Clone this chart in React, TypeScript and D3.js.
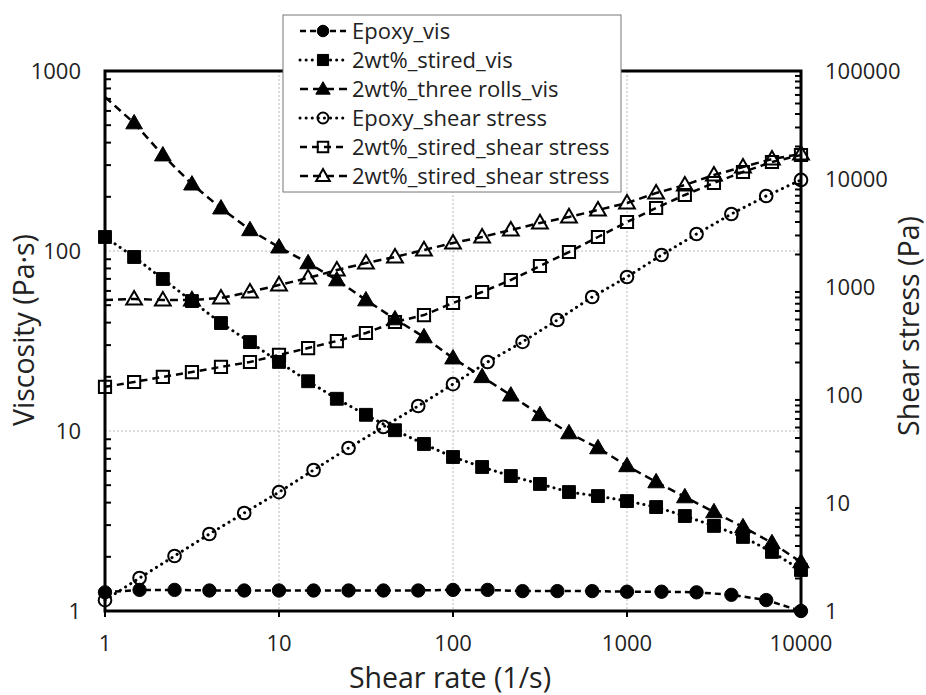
import React from 'react';
import * as d3 from 'd3';

// shear rates (1/s): 5 points per decade for epoxy, 6 per decade for 2wt% samples
const rateEpoxy = [1, 1.58, 2.51, 3.98, 6.31, 10, 15.8, 25.1, 39.8, 63.1, 100, 158, 251, 398, 631, 1000, 1580, 2510, 3980, 6310, 10000];
const rateFilled = [1, 1.47, 2.15, 3.16, 4.64, 6.81, 10, 14.7, 21.5, 31.6, 46.4, 68.1, 100, 147, 215, 316, 464, 681, 1000, 1470, 2150, 3160, 4640, 6810, 10000];

// viscosity (Pa·s), left axis
const epoxyVis = [1.27, 1.31, 1.31, 1.3, 1.3, 1.3, 1.3, 1.3, 1.3, 1.3, 1.31, 1.31, 1.29, 1.29, 1.29, 1.28, 1.28, 1.27, 1.23, 1.15, 1.0];
const stiredVis = [119.6, 92.6, 69.9, 52.7, 39.8, 31.2, 24.2, 18.9, 15.1, 12.3, 10.1, 8.47, 7.17, 6.31, 5.62, 5.08, 4.58, 4.35, 4.08, 3.78, 3.37, 2.97, 2.58, 2.13, 1.69];
const threeRollsVis = [717, 514, 341, 235, 173, 131, 105, 85.8, 69, 53.4, 41.9, 33.3, 25.4, 20, 15.8, 12.3, 9.75, 8.05, 6.4, 5.21, 4.3, 3.55, 2.93, 2.39, 1.87];

// shear stress (Pa), right axis
const epoxyStress = [1.26, 2.02, 3.23, 5.16, 8.08, 12.6, 20.2, 32.3, 50.6, 79.1, 126, 202, 310, 495, 808, 1238, 1977, 3093, 4743, 6965, 9800];
const stiredStress = [119, 132, 147, 163, 182, 202, 235, 272, 316, 375, 474, 550, 711, 899, 1161, 1564, 2108, 2904, 4000, 5387, 7112, 9184, 11610, 14360, 16680];
const threeRollsStress = [758, 774, 758, 758, 791, 899, 1044, 1212, 1436, 1667, 1896, 2202, 2555, 2904, 3371, 3917, 4450, 5163, 5995, 7418, 8790, 10890, 12910, 15310, 17030];

const xTicks = [1, 10, 100, 1000, 10000];
const yLeftTicks = [1, 10, 100, 1000];
const yRightTicks = [1, 10, 100, 1000, 10000, 100000];

const series = [
  { name: 'Epoxy_vis', x: rateEpoxy, y: epoxyVis, axis: 'L', shape: 'circle', filled: true, dash: '6,4', markerFrom: 0 },
  { name: '2wt%_stired_vis', x: rateFilled, y: stiredVis, axis: 'L', shape: 'square', filled: true, dash: 'dot', markerFrom: 0 },
  { name: '2wt%_three rolls_vis', x: rateFilled, y: threeRollsVis, axis: 'L', shape: 'triangle', filled: true, dash: '8,5', markerFrom: 1 },
  { name: 'Epoxy_shear stress', x: rateEpoxy, y: epoxyStress, axis: 'R', shape: 'circle', filled: false, dash: 'dot', markerFrom: 0 },
  { name: '2wt%_stired_shear stress', x: rateFilled, y: stiredStress, axis: 'R', shape: 'square', filled: false, dash: '7,5', markerFrom: 0 },
  { name: '2wt%_stired_shear stress', x: rateFilled, y: threeRollsStress, axis: 'R', shape: 'triangle', filled: false, dash: '8,5', markerFrom: 1 },
];

const W = 926;
const H = 695;
const left = 105, right = 801, top = 71, bottom = 611;
const font = '"Open Sans", "DejaVu Sans", sans-serif';

const symbolType = (s) => s === 'circle' ? d3.symbolCircle : s === 'square' ? d3.symbolSquare : d3.symbolTriangle;
const symbolSize = (s, k) => (s === 'circle' ? 140 : s === 'square' ? 165 : 120) * k;

const Marker = ({ s, x, y, k = 1 }) => {
  const path = d3.symbol().type(symbolType(s.shape)).size(symbolSize(s.shape, s.filled ? k : k * 0.9))();
  const dy = s.shape === 'triangle' ? 1 : 0;
  return (
    <path
      d={path}
      transform={`translate(${x},${y + dy})`}
      fill={s.filled ? '#000' : 'none'}
      stroke="#000"
      strokeWidth={s.filled ? 1 : 2}
    />
  );
};

const lineDash = (dash) => dash === 'dot'
  ? { strokeDasharray: '0.1,6', strokeLinecap: 'round' as const, strokeWidth: 3 }
  : { strokeDasharray: dash, strokeWidth: 2.5 };

export default function App() {
  const x = d3.scaleLog().domain([1, 10000]).range([left, right]);
  const yL = d3.scaleLog().domain([1, 1000]).range([bottom, top]);
  const yR = d3.scaleLog().domain([1, 100000]).range([bottom, top]);

  const minorL = yL.ticks().filter(v => !yLeftTicks.includes(v));
  const minorR = yR.ticks().filter(v => !yRightTicks.includes(v));

  const legendX = 283, legendY = 15, legendW = 338, legendH = 177, rowH = 29;

  return (
    <svg width={W} height={H} style={{ position: 'absolute', left: 0, top: 0, background: '#fff' }} fontFamily={font}>
      <rect width={W} height={H} fill="#fff" />

      {/* grid */}
      {[10, 100].map(v => (
        <line key={'gy' + v} x1={left} x2={right} y1={yL(v)} y2={yL(v)} stroke="#aaa" strokeWidth={0.8} strokeDasharray="2,2" />
      ))}
      {[10, 100, 1000].map(v => (
        <line key={'gx' + v} x1={x(v)} x2={x(v)} y1={top} y2={bottom} stroke="#aaa" strokeWidth={0.8} strokeDasharray="2,2" />
      ))}

      {/* series */}
      {series.map((s, i) => {
        const yS = s.axis === 'L' ? yL : yR;
        const pts = s.x.map((xv, j) => [x(xv), yS(s.y[j])] as [number, number]);
        const d = d3.line()(pts);
        return (
          <g key={'s' + i}>
            <path d={d} fill="none" stroke="#000" {...lineDash(s.dash)} />
            {pts.slice(s.markerFrom).map((p, j) => <Marker key={j} s={s} x={p[0]} y={p[1]} />)}
          </g>
        );
      })}

      {/* frame */}
      <rect x={left} y={top} width={right - left} height={bottom - top} fill="none" stroke="#000" strokeWidth={3} />

      {/* ticks */}
      {minorL.map(v => <line key={'ml' + v} x1={left} x2={left + 6} y1={yL(v)} y2={yL(v)} stroke="#000" strokeWidth={2} />)}
      {minorR.map(v => <line key={'mr' + v} x1={right - 6} x2={right} y1={yR(v)} y2={yR(v)} stroke="#000" strokeWidth={2} />)}
      {xTicks.map(v => <line key={'xt' + v} x1={x(v)} x2={x(v)} y1={bottom} y2={bottom + 6} stroke="#000" strokeWidth={2} />)}

      {/* tick labels */}
      {yLeftTicks.map(v => (
        <text key={'yl' + v} x={left - 24} y={yL(v)} dy="0.35em" textAnchor="end" fontSize={22} fill="#222">{v}</text>
      ))}
      {yRightTicks.map(v => (
        <text key={'yr' + v} x={right + 24} y={yR(v)} dy="0.35em" textAnchor="start" fontSize={22} fill="#222">{v}</text>
      ))}
      {xTicks.map(v => (
        <text key={'xl' + v} x={x(v)} y={651} textAnchor="middle" fontSize={22} fill="#222">{v}</text>
      ))}

      {/* axis titles */}
      <text x={450} y={688} textAnchor="middle" fontSize={28.5} fill="#222">Shear rate (1/s)</text>
      <text transform={`translate(34,330) rotate(-90)`} textAnchor="middle" fontSize={28.5} fill="#222">Viscosity (Pa·s)</text>
      <text transform={`translate(919,326) rotate(-90)`} textAnchor="middle" fontSize={28.5} fill="#222">Shear stress (Pa)</text>

      {/* legend */}
      <rect x={legendX} y={legendY} width={legendW} height={legendH} fill="#fff" stroke="#777" strokeWidth={1} />
      {series.map((s, i) => {
        const cy = legendY + 16 + i * rowH;
        return (
          <g key={'lg' + i}>
            <line x1={300} x2={347} y1={cy} y2={cy} stroke="#000" {...lineDash(s.dash)} />
            <Marker s={s} x={323} y={cy} k={0.75} />
            <text x={352} y={cy} dy="0.35em" fontSize={22} fill="#222">{s.name}</text>
          </g>
        );
      })}
    </svg>
  );
}
